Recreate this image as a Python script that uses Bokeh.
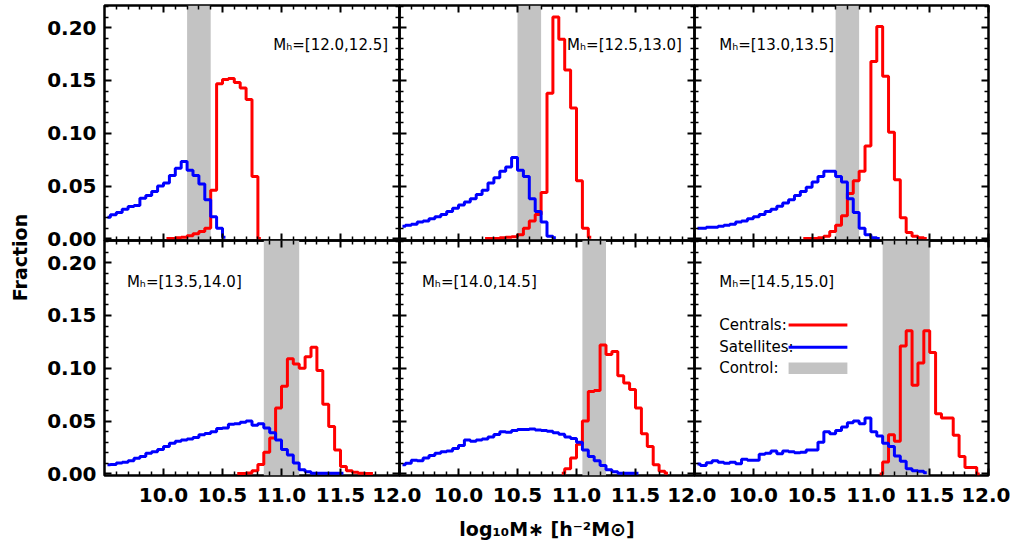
import numpy as np
from bokeh.plotting import figure
from bokeh.models import (Range1d, FixedTicker, PrintfTickFormatter, LinearAxis,
                          BoxAnnotation, Label, Arrow)
from bokeh.layouts import row, column
from bokeh.embed import file_html
from bokeh.resources import INLINE

# ---------------- data ----------------
BIN_CENTERS = [9.525, 9.575, 9.625, 9.675, 9.725, 9.775, 9.825, 9.875, 9.925, 9.975,
               10.025, 10.075, 10.125, 10.175, 10.225, 10.275, 10.325, 10.375, 10.425, 10.475,
               10.525, 10.575, 10.625, 10.675, 10.725, 10.775, 10.825, 10.875, 10.925, 10.975,
               11.025, 11.075, 11.125, 11.175, 11.225, 11.275, 11.325, 11.375, 11.425, 11.475,
               11.525, 11.575, 11.625, 11.675, 11.725, 11.775, 11.825, 11.875, 11.925, 11.975]

HALO_LABELS = ["M\u2095=[12.0,12.5]", "M\u2095=[12.5,13.0]", "M\u2095=[13.0,13.5]",
               "M\u2095=[13.5,14.0]", "M\u2095=[14.0,14.5]", "M\u2095=[14.5,15.0]"]

CONTROL_LO = [10.20, 10.50, 10.70, 10.85, 11.05, 11.10]
CONTROL_HI = [10.40, 10.70, 10.90, 11.15, 11.25, 11.50]

CEN_FIRST_BIN = [10, 14, 18, 22, 27, 31]
SAT_FIRST_BIN = [0, 0, 0, 0, 0, 0]

CEN_1 = [0.0005, 0.0005, 0.001, 0.0015, 0.003, 0.005, 0.007, 0.010, 0.046, 0.147,
         0.151, 0.152, 0.148, 0.143, 0.132, 0.059, 0.0005]
CEN_2 = [0.0005, 0.0005, 0.0005, 0.001, 0.0015, 0.002, 0.004, 0.010, 0.017, 0.023,
         0.044, 0.138, 0.210, 0.189, 0.160, 0.124, 0.055, 0.010, 0.0015]
CEN_3 = [0.0005, 0.0005, 0.0005, 0.001, 0.0025, 0.007, 0.013, 0.022, 0.043, 0.055,
         0.064, 0.088, 0.168, 0.201, 0.154, 0.101, 0.056, 0.020, 0.006, 0.0025, 0.001, 0.0005]
CEN_4 = [0.0005, 0.0005, 0.0008, 0.003, 0.009, 0.0205, 0.034, 0.0625, 0.083, 0.109,
         0.104, 0.100, 0.111, 0.120, 0.098, 0.066, 0.045, 0.0227, 0.007, 0.003,
         0.0015, 0.0006, 0.0005, 0.0005]
CEN_5 = [0.0006, 0.005, 0.015, 0.028, 0.050, 0.078, 0.079, 0.122, 0.113, 0.116,
         0.093, 0.086, 0.080, 0.0625, 0.038, 0.026, 0.0087, 0.0025, 0.0006]
CEN_6 = [0.0, 0.0112, 0.037, 0.031, 0.121, 0.1356, 0.084, 0.105, 0.1356, 0.115,
         0.057, 0.053, 0.053, 0.0367, 0.0165, 0.006, 0.006, 0.0]

SAT_1 = [0.0206, 0.0228, 0.025, 0.028, 0.0306, 0.0316, 0.0384, 0.041, 0.045, 0.050,
         0.053, 0.060, 0.067, 0.0734, 0.065, 0.060, 0.052, 0.037, 0.021, 0.010, 0.0015]
SAT_2 = [0.012, 0.013, 0.014, 0.016, 0.017, 0.019, 0.021, 0.023, 0.026, 0.029,
         0.032, 0.035, 0.038, 0.042, 0.046, 0.053, 0.058, 0.064, 0.068, 0.077,
         0.065, 0.059, 0.038, 0.026, 0.016, 0.0025, 0.001]
SAT_3 = [0.010, 0.010, 0.011, 0.011, 0.012, 0.013, 0.014, 0.016, 0.017, 0.019,
         0.021, 0.023, 0.026, 0.028, 0.031, 0.034, 0.037, 0.041, 0.045, 0.049,
         0.054, 0.059, 0.064, 0.064, 0.059, 0.054, 0.038, 0.025, 0.010, 0.004, 0.001, 0.0005]
SAT_4 = [0.0087, 0.009, 0.0103, 0.011, 0.0124, 0.0149, 0.0165, 0.0196, 0.021, 0.023,
         0.026, 0.029, 0.031, 0.032, 0.033, 0.0345, 0.037, 0.0383, 0.040, 0.043,
         0.0435, 0.047, 0.0476, 0.049, 0.050, 0.046, 0.0476, 0.0435, 0.039, 0.032,
         0.023, 0.018, 0.0103, 0.004, 0.002, 0.0006, 0.0006, 0.0006, 0.0006, 0.0006, 0.0006]
SAT_5 = [0.0087, 0.010, 0.013, 0.0125, 0.015, 0.0174, 0.0196, 0.021, 0.0217, 0.024,
         0.027, 0.032, 0.031, 0.032, 0.033, 0.035, 0.0374, 0.040, 0.0395, 0.041,
         0.042, 0.042, 0.0425, 0.0415, 0.041, 0.0405, 0.039, 0.0375, 0.035, 0.0336,
         0.030, 0.0227, 0.0165, 0.0125, 0.008, 0.004, 0.002, 0.0006, 0.0006, 0.0006, 0.0006]
SAT_6 = [0.0093, 0.008, 0.0105, 0.0124, 0.011, 0.010, 0.011, 0.0096, 0.014, 0.013,
         0.013, 0.0187, 0.0196, 0.0218, 0.019, 0.0218, 0.021, 0.020, 0.0205, 0.0227,
         0.0227, 0.030, 0.040, 0.038, 0.041, 0.0445, 0.0485, 0.050, 0.0476, 0.053,
         0.040, 0.036, 0.029, 0.026, 0.017, 0.012, 0.005, 0.003, 0.0025, 0.001]

CENTRALS = [CEN_1, CEN_2, CEN_3, CEN_4, CEN_5, CEN_6]
SATELLITES = [SAT_1, SAT_2, SAT_3, SAT_4, SAT_5, SAT_6]

X_MAJOR = [10.0, 10.5, 11.0, 11.5, 12.0]
X_MINOR = [9.6, 9.7, 9.8, 9.9, 10.1, 10.2, 10.3, 10.4, 10.6, 10.7, 10.8, 10.9,
           11.1, 11.2, 11.3, 11.4, 11.6, 11.7, 11.8, 11.9]
Y_MAJOR = [0.0, 0.05, 0.10, 0.15, 0.20]
Y_MINOR = [0.01, 0.02, 0.03, 0.04, 0.06, 0.07, 0.08, 0.09, 0.11, 0.12, 0.13, 0.14,
           0.16, 0.17, 0.18, 0.19, 0.21, 0.22]

# ---------------- layout / style ----------------
PAD = 22          # horizontal overlap border
VPAD = 14         # vertical overlap border
FRAME_W = [295, 295, 294]
FRAME_H = 235
LEFT_BORDER = 66
BOTTOM_BORDER = 72
TOP_OFFSET = 3
YFIG_W = 38
FONT = "DejaVu Sans"
TICK_SIZE = "20px"
LABEL_X = [10.93, 10.92, 9.71, 9.69, 9.69, 9.71]
LABEL_Y = [0.184, 0.182]


def tick_style(ax, major_len, minor_len):
    ax.axis_line_color = None
    ax.major_tick_in = major_len
    ax.major_tick_out = 0
    ax.minor_tick_in = minor_len
    ax.minor_tick_out = 0
    ax.major_tick_line_width = 2
    ax.minor_tick_line_width = 1.5
    ax.major_tick_line_color = "black"
    ax.minor_tick_line_color = "black"
    ax.major_label_standoff = 0


def labelled_axis(major, minor, fmt, standoff):
    ax = LinearAxis(ticker=FixedTicker(ticks=major, minor_ticks=minor), formatter=fmt)
    tick_style(ax, 7, 4)
    ax.major_label_text_font = FONT
    ax.major_label_text_font_style = "bold"
    ax.major_label_text_font_size = TICK_SIZE
    ax.major_label_text_color = "black"
    ax.major_label_standoff = standoff
    return ax


def tick_only_axes(major, minor):
    # no major ticks -> no labels at all; ticks drawn as "minor" ticks of two lengths
    a = LinearAxis(ticker=FixedTicker(ticks=[], minor_ticks=major))
    tick_style(a, 0, 7)
    a.minor_tick_line_width = 2
    b = LinearAxis(ticker=FixedTicker(ticks=[], minor_ticks=minor))
    tick_style(b, 0, 4)
    return [a, b]


panels = []
for i in range(6):
    r, c = divmod(i, 3)
    p = figure(frame_width=FRAME_W[c], frame_height=FRAME_H,
               x_range=Range1d(9.5, 12.0), y_range=Range1d(-0.0015, 0.221),
               x_axis_location=None, y_axis_location=None,
               output_backend="svg", toolbar_location=None,
               min_border_left=LEFT_BORDER if c == 0 else PAD,
               min_border_right=PAD,
               min_border_top=2 if r == 0 else VPAD,
               min_border_bottom=VPAD if r == 0 else BOTTOM_BORDER)
    p.grid.visible = False
    p.border_fill_alpha = 0
    p.background_fill_alpha = 0
    p.outline_line_color = "black"
    p.outline_line_width = 2.5

    # x axes
    if r == 1:
        ax = labelled_axis(X_MAJOR, X_MINOR, PrintfTickFormatter(format="%.1f"), 12)
        if i == 4:
            ax.axis_label = "log\u2081\u2080M\u2217 [h\u207b\u00b2M\u2299]"
            ax.axis_label_text_font = FONT
            ax.axis_label_text_font_style = "bold"
            ax.axis_label_text_font_size = "19px"
            ax.axis_label_text_color = "black"
            ax.axis_label_standoff = 13
        p.add_layout(ax, "below")
    else:
        for a in tick_only_axes(X_MAJOR, X_MINOR):
            p.add_layout(a, "below")
    for a in tick_only_axes(X_MAJOR, X_MINOR):
        p.add_layout(a, "above")
    # y axes
    if c == 0:
        p.add_layout(labelled_axis(Y_MAJOR, Y_MINOR, PrintfTickFormatter(format="%.2f"), 8), "left")
    else:
        for a in tick_only_axes(Y_MAJOR, Y_MINOR):
            p.add_layout(a, "left")
    for a in tick_only_axes(Y_MAJOR, Y_MINOR):
        p.add_layout(a, "right")

    p.add_layout(BoxAnnotation(left=CONTROL_LO[i], right=CONTROL_HI[i],
                               fill_color="#c3c3c3", fill_alpha=1.0,
                               line_color=None, level="underlay"))

    c0 = CEN_FIRST_BIN[i]
    p.step(BIN_CENTERS[c0:c0 + len(CENTRALS[i])], CENTRALS[i], mode="center",
           line_color="#ff0000", line_width=3)
    s0 = SAT_FIRST_BIN[i]
    p.step(BIN_CENTERS[s0:s0 + len(SATELLITES[i])], SATELLITES[i], mode="center",
           line_color="#0000ff", line_width=3)

    p.add_layout(Label(x=LABEL_X[i], y=LABEL_Y[r], text=HALO_LABELS[i],
                       text_font=FONT, text_font_size="15px", text_color="black",
                       text_align="left", text_baseline="middle"))
    panels.append(p)

# legend in last panel (text left, sample right)
p6 = panels[5]
LEG_TEXT = ["Centrals:", "Satellites:", "Control:"]
LEG_Y = [0.141, 0.120, 0.100]
LEG_TX = 9.71
LEG_X0, LEG_X1 = 10.30, 10.80
for t, yy in zip(LEG_TEXT, LEG_Y):
    p6.add_layout(Label(x=LEG_TX, y=yy, text=t, text_font=FONT, text_font_size="15px",
                        text_color="black", text_align="left", text_baseline="middle"))
p6.add_layout(Arrow(start=None, end=None, x_start=LEG_X0, x_end=LEG_X1,
                    y_start=LEG_Y[0], y_end=LEG_Y[0], line_color="#ff0000", line_width=3))
p6.add_layout(Arrow(start=None, end=None, x_start=LEG_X0, x_end=LEG_X1,
                    y_start=LEG_Y[1], y_end=LEG_Y[1], line_color="#0000ff", line_width=3))
p6.add_layout(BoxAnnotation(left=LEG_X0, right=LEG_X1, bottom=LEG_Y[2] - 0.0055,
                            top=LEG_Y[2] + 0.0055, fill_color="#c3c3c3", fill_alpha=1.0,
                            line_color=None))

# y title figure
yfig = figure(frame_width=YFIG_W, frame_height=500, x_range=Range1d(0, YFIG_W),
              y_range=Range1d(500 + TOP_OFFSET, TOP_OFFSET),
              x_axis_location=None, y_axis_location=None,
              output_backend="svg", toolbar_location=None,
              min_border_left=0, min_border_right=0, min_border_top=0, min_border_bottom=0)
yfig.grid.visible = False
yfig.outline_line_color = None
yfig.border_fill_alpha = 0
yfig.background_fill_alpha = 0
yfig.add_layout(Label(x=19, y=257, text="Fraction", angle=np.pi / 2, text_font=FONT,
                      text_font_style="bold", text_font_size="19px", text_color="black",
                      text_align="center", text_baseline="middle"))

for p in (panels[1], panels[2], panels[4], panels[5]):
    p.margin = (0, 0, 0, -2 * PAD)
top_row = row(panels[0], panels[1], panels[2])
bottom_row = row(panels[3], panels[4], panels[5])
bottom_row.margin = (-2 * VPAD, 0, 0, 0)
grid = column(top_row, bottom_row)
layout = row(yfig, grid)
layout.margin = (TOP_OFFSET, 0, 0, 0)

open("out.html", "w").write(file_html(layout, INLINE))
